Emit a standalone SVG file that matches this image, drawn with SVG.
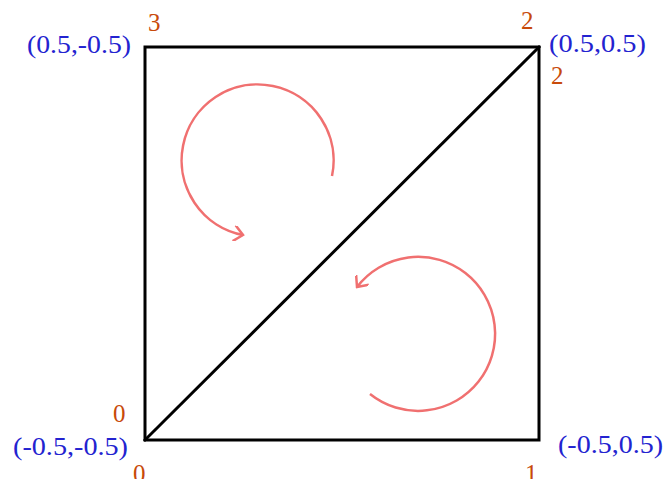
<svg xmlns="http://www.w3.org/2000/svg" width="666" height="479" viewBox="0 0 666 479">
<style>
.edge{stroke:#000;stroke-width:3;fill:none;stroke-linecap:square}
.rot{stroke:#f07070;stroke-width:2.5;fill:none}
.coord{font-family:"Liberation Serif",serif;font-size:26px;fill:#2323d0}
.idx{font-family:"Liberation Serif",serif;font-size:25px;fill:#c84a0a}
</style>
<defs>
<marker id="chev" viewBox="-12 -8 14 16" markerWidth="14" markerHeight="16" refX="0" refY="0" orient="auto" markerUnits="userSpaceOnUse">
<path d="M-9,-8 L0,0 L-9,8" fill="none" stroke="#f07070" stroke-width="2.5"/>
</marker>
</defs>
<rect width="666" height="479" fill="#fff"/>
<g id="connectors">
<path class="edge" d="M145,47 L539,47 L539,440 L145,440 Z"/>
<path class="edge" d="M145,440 L539,47"/>
<path class="rot" d="M332,176 A76,76 0 1 0 243,235" marker-end="url(#chev)"/>
<path class="rot" d="M370,394 A77,77 0 1 0 357,287" marker-end="url(#chev)"/>
</g>
<g id="v3">
<text class="idx" x="148" y="31">3</text>
<text class="coord" x="27" y="53" textLength="104" lengthAdjust="spacingAndGlyphs">(0.5,-0.5)</text>
</g>
<g id="v2">
<text class="idx" x="521" y="29">2</text>
<text class="idx" x="551" y="84">2</text>
<text class="coord" x="549" y="52" textLength="97" lengthAdjust="spacingAndGlyphs">(0.5,0.5)</text>
</g>
<g id="v0">
<text class="idx" x="113" y="422">0</text>
<text class="idx" x="133" y="482">0</text>
<text class="coord" x="13" y="455" textLength="115" lengthAdjust="spacingAndGlyphs">(-0.5,-0.5)</text>
</g>
<g id="v1">
<text class="idx" x="525" y="482">1</text>
<text class="coord" x="558" y="453" textLength="105" lengthAdjust="spacingAndGlyphs">(-0.5,0.5)</text>
</g>
</svg>
